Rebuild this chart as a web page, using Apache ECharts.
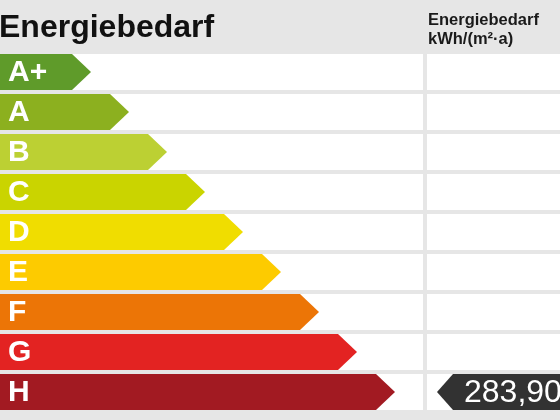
<!DOCTYPE html>
<html>
<head>
<meta charset="utf-8">
<script src="https://cdn.jsdelivr.net/npm/echarts@6/dist/echarts.min.js"></script>
<style>
  html, body { margin: 0; padding: 0; background: #e6e6e6; }
  #chart { width: 560px; height: 420px; }
</style>
</head>
<body>
<div id="chart"></div>
<script>
// energy classes, top to bottom
const classes = ['A+', 'A', 'B', 'C', 'D', 'E', 'F', 'G', 'H'];
const classColors = ['#5f9b2a', '#8cb01f', '#bcd033', '#cad400', '#f0dd00', '#fdcb00', '#ec7506', '#e32322', '#a21a22'];
// where each class arrow ends on the x scale
const arrowEnds = [91, 129, 167, 205, 243, 281, 319, 357, 395];

// the building's demand
const demandClass = 'H';
const demandLabel = '283,90';

const titleText = 'Energiebedarf';
const unitText = 'Energiebedarf\nkWh/(m²·a)';

// layout
const SCALE_MAX = 560;
const LEFT_END = 423;
const RIGHT_START = 427;
const MARKER_TIP = 437;
const ROW_GAP = 4;
const FONT = 'Liberation Sans, Arial, sans-serif';

const chart = echarts.init(document.getElementById('chart'));

function rowBox(api, idx) {
  const band = api.size([0, 1])[1];
  const h = band - ROW_GAP;
  const cy = api.coord([0, idx])[1];
  return { y: cy - h / 2, h: h, cy: cy };
}

function renderRow(params, api) {
  const idx = api.value(0);
  const r = rowBox(api, idx);
  const x0 = api.coord([0, idx])[0];
  const x1 = api.coord([LEFT_END, idx])[0];
  const x2 = api.coord([RIGHT_START, idx])[0];
  const x3 = api.coord([SCALE_MAX, idx])[0];
  return {
    type: 'group',
    children: [
      { type: 'rect', shape: { x: x0, y: r.y, width: x1 - x0, height: r.h }, style: { fill: '#fff' } },
      { type: 'rect', shape: { x: x2, y: r.y, width: x3 - x2, height: r.h }, style: { fill: '#fff' } }
    ]
  };
}

function renderArrow(params, api) {
  const idx = api.value(1);
  const r = rowBox(api, idx);
  const x0 = api.coord([0, idx])[0];
  const tip = api.coord([api.value(0), idx])[0];
  const depth = r.h / 2 + 1;
  return {
    type: 'group',
    children: [
      {
        type: 'polygon',
        shape: { points: [[x0, r.y], [tip - depth, r.y], [tip, r.cy], [tip - depth, r.y + r.h], [x0, r.y + r.h]] },
        style: { fill: classColors[idx] }
      },
      {
        type: 'text',
        x: x0 + 8, y: r.cy + 1,
        style: { text: classes[idx], fill: '#fff', font: 'bold 30px ' + FONT, verticalAlign: 'middle' }
      }
    ]
  };
}

function renderMarker(params, api) {
  const idx = api.value(1);
  const r = rowBox(api, idx);
  const tip = api.coord([api.value(0), idx])[0];
  const xe = api.coord([SCALE_MAX, idx])[0] + 2;
  const depth = r.h / 2 - 2;
  return {
    type: 'group',
    children: [
      {
        type: 'polygon',
        shape: { points: [[tip, r.cy], [tip + depth, r.y], [xe, r.y], [xe, r.y + r.h], [tip + depth, r.y + r.h]] },
        style: { fill: '#323232' }
      },
      {
        type: 'text',
        x: tip + depth + 11, y: r.cy + 1,
        style: { text: demandLabel, fill: '#fff', font: '32px ' + FONT, verticalAlign: 'middle' }
      }
    ]
  };
}

chart.setOption({
  backgroundColor: '#e6e6e6',
  animation: false,
  title: [
    {
      text: titleText, left: -1, top: 12, padding: 0,
      textStyle: { fontFamily: FONT, fontSize: 32, fontWeight: 'bold', color: '#111' }
    },
    {
      text: unitText, left: 428, top: 11, padding: 0,
      textStyle: { fontFamily: FONT, fontSize: 16.5, fontWeight: 'bold', color: '#1a1a1a', lineHeight: 19 }
    }
  ],
  grid: { left: 0, right: 0, top: 52, bottom: 8 },
  xAxis: { type: 'value', min: 0, max: SCALE_MAX, show: false },
  yAxis: { type: 'category', data: classes, inverse: true, show: false },
  series: [
    {
      type: 'custom',
      renderItem: renderRow,
      encode: { x: -1, y: 0 },
      data: classes.map((c, i) => [i])
    },
    {
      type: 'custom',
      renderItem: renderArrow,
      encode: { x: 0, y: 1 },
      data: arrowEnds.map((v, i) => [v, i])
    },
    {
      type: 'custom',
      renderItem: renderMarker,
      encode: { x: 0, y: 1 },
      data: [[MARKER_TIP, classes.indexOf(demandClass)]]
    }
  ]
});
</script>
</body>
</html>
